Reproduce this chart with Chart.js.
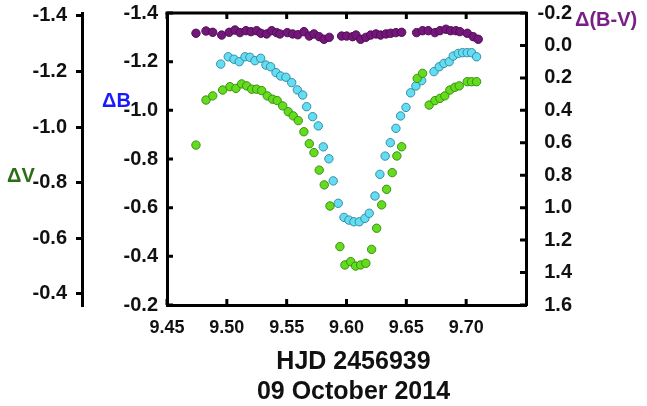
<!DOCTYPE html>
<html>
<head>
<meta charset="utf-8">
<script src="https://cdn.jsdelivr.net/npm/chart.js@4/dist/chart.umd.min.js"></script>
<style>
  html, body { margin: 0; padding: 0; background: #ffffff; }
  canvas { display: block; }
</style>
</head>
<body>
<canvas id="c" width="647" height="406"></canvas>
<script>
// ---- Data ----
const hjdBV = [9.4742, 9.4826, 9.4882, 9.4957, 9.5020, 9.5068, 9.5110, 9.5160, 9.5202, 9.5249,
  9.5285, 9.5333, 9.5375, 9.5416, 9.5444, 9.5505, 9.5550, 9.5594, 9.5645, 9.5689,
  9.5728, 9.5772, 9.5812, 9.5856, 9.5959, 9.6001, 9.6051, 9.6079, 9.6118, 9.6162,
  9.6202, 9.6246, 9.6285, 9.6330, 9.6369, 9.6413, 9.6461, 9.6586, 9.6636, 9.6683,
  9.6739, 9.6781, 9.6831, 9.6870, 9.6914, 9.6948, 9.7009, 9.7059, 9.7101];
const dBV = [-0.075, -0.089, -0.081, -0.064, -0.081, -0.095, -0.079, -0.091, -0.085, -0.091,
  -0.075, -0.071, -0.091, -0.079, -0.071, -0.079, -0.071, -0.066, -0.085, -0.058,
  -0.071, -0.054, -0.038, -0.050, -0.058, -0.058, -0.054, -0.064, -0.038, -0.050,
  -0.064, -0.071, -0.064, -0.071, -0.075, -0.079, -0.081, -0.079, -0.091, -0.091,
  -0.079, -0.091, -0.100, -0.091, -0.091, -0.085, -0.075, -0.054, -0.038];

const hjdB = [9.4949, 9.5012, 9.5060, 9.5104, 9.5152, 9.5193, 9.5235, 9.5283, 9.5327, 9.5366,
  9.5411, 9.5450, 9.5494, 9.5542, 9.5589, 9.5634, 9.5667, 9.5717, 9.5764, 9.5806,
  9.5853, 9.5889, 9.5931, 9.5979, 9.6020, 9.6062, 9.6107, 9.6154, 9.6190, 9.6238,
  9.6279, 9.6323, 9.6366, 9.6413, 9.6452, 9.6497, 9.6536, 9.6580, 9.6628, 9.6731,
  9.6775, 9.6814, 9.6858, 9.6892, 9.6934, 9.6970, 9.7009, 9.7045, 9.7087];
const dB = [-1.190, -1.220, -1.210, -1.200, -1.220, -1.218, -1.204, -1.214, -1.186, -1.179,
  -1.155, -1.141, -1.136, -1.114, -1.084, -1.063, -1.015, -0.974, -0.936, -0.850,
  -0.801, -0.710, -0.618, -0.560, -0.549, -0.542, -0.542, -0.556, -0.577, -0.648,
  -0.737, -0.812, -0.867, -0.926, -0.977, -1.012, -1.072, -1.100, -1.122, -1.159,
  -1.179, -1.193, -1.200, -1.223, -1.234, -1.237, -1.237, -1.237, -1.220];

const hjdV = [9.4742, 9.4826, 9.4882, 9.4965, 9.5026, 9.5076, 9.5124, 9.5166, 9.5208, 9.5249,
  9.5291, 9.5338, 9.5383, 9.5421, 9.5467, 9.5513, 9.5555, 9.5597, 9.5644, 9.5689,
  9.5728, 9.5772, 9.5814, 9.5862, 9.5945, 9.5987, 9.6035, 9.6076, 9.6118, 9.6162,
  9.6210, 9.6252, 9.6294, 9.6335, 9.6382, 9.6421, 9.6461, 9.6591, 9.6636, 9.6691,
  9.6739, 9.6781, 9.6822, 9.6864, 9.6906, 9.6942, 9.7009, 9.7045, 9.7087];
const dV = [-0.935, -1.097, -1.112, -1.133, -1.145, -1.139, -1.155, -1.148, -1.136, -1.136,
  -1.131, -1.112, -1.100, -1.095, -1.076, -1.055, -1.040, -1.023, -0.983, -0.940,
  -0.908, -0.845, -0.792, -0.716, -0.570, -0.504, -0.516, -0.500, -0.504, -0.510,
  -0.560, -0.636, -0.720, -0.776, -0.836, -0.896, -0.929, -1.175, -1.193, -1.079,
  -1.095, -1.103, -1.112, -1.133, -1.143, -1.148, -1.163, -1.163, -1.163];

// ---- Tick labels ----
const xTicks = [9.45, 9.50, 9.55, 9.60, 9.65, 9.70];
const bTicks = [-1.4, -1.2, -1.0, -0.8, -0.6, -0.4, -0.2];
const vTicks = [-1.4, -1.2, -1.0, -0.8, -0.6, -0.4];
const bvTicks = [-0.2, 0.0, 0.2, 0.4, 0.6, 0.8, 1.0, 1.2, 1.4, 1.6];

const FONT = "'Liberation Sans', Arial, sans-serif";
const toPts = (xs, ys) => xs.map((x, i) => ({ x: x, y: ys[i] }));
const setTicks = arr => (scale) => { scale.ticks = arr.map(v => ({ value: v })); };
const fitW = w => (s) => { s.width = w; s.paddingTop = 0; s.paddingBottom = 0; };

const deco = {
  id: 'deco',
  afterDraw(chart) {
    const { ctx, chartArea: a, scales } = chart;
    ctx.save();
    ctx.strokeStyle = '#000';
    ctx.lineWidth = 3;
    ctx.beginPath();
    ctx.moveTo(a.left - 1.5, a.top);
    ctx.lineTo(a.right + 1.5, a.top);
    ctx.stroke();
    const L = 6;
    ctx.beginPath();
    scales.x.ticks.forEach(t => {
      const px = scales.x.getPixelForValue(t.value);
      ctx.moveTo(px, a.bottom); ctx.lineTo(px, a.bottom - L);
      ctx.moveTo(px, a.top); ctx.lineTo(px, a.top + L);
    });
    scales.yB.ticks.forEach(t => {
      const py = scales.yB.getPixelForValue(t.value);
      ctx.moveTo(a.left, py); ctx.lineTo(a.left + L, py);
    });
    scales.yBV.ticks.forEach(t => {
      const py = scales.yBV.getPixelForValue(t.value);
      ctx.moveTo(a.right, py); ctx.lineTo(a.right - L, py);
    });
    ctx.stroke();

    ctx.textBaseline = 'middle';
    ctx.textAlign = 'left';
    ctx.font = 'bold 20px ' + FONT;
    ctx.fillStyle = '#2c6e18';
    ctx.fillText('\u0394V', 7, 176);
    ctx.fillStyle = '#1a1aff';
    ctx.fillText('\u0394B', 102, 101);
    ctx.fillStyle = '#7a1f86';
    ctx.fillText('\u0394(B-V)', 575, 20);

    ctx.textAlign = 'center';
    ctx.fillStyle = '#111';
    ctx.font = 'bold 25px ' + FONT;
    const cx = (a.left + a.right) / 2 + 7;
    ctx.fillText('HJD 2456939', cx, 362);
    ctx.fillText('09 October 2014', cx, 392);
    ctx.restore();
  }
};

const tickFont = { family: FONT, size: 20, weight: 'bold' };

new Chart(document.getElementById('c'), {
  type: 'scatter',
  data: {
    datasets: [
      { label: 'dV', data: toPts(hjdV, dV), yAxisID: 'yV',
        backgroundColor: '#62dc1c', borderColor: '#3b8f12', borderWidth: 1, pointRadius: 4.2 },
      { label: 'dB', data: toPts(hjdB, dB), yAxisID: 'yB',
        backgroundColor: '#62def2', borderColor: '#3a8aa6', borderWidth: 1, pointRadius: 4.2 },
      { label: 'dBV', data: toPts(hjdBV, dBV), yAxisID: 'yBV',
        backgroundColor: '#74177a', borderColor: '#520d57', borderWidth: 1, pointRadius: 4.2 }
    ]
  },
  options: {
    responsive: false,
    animation: false,
    layout: { padding: { left: 0, right: 75, top: 13, bottom: 0 } },
    plugins: { legend: { display: false }, tooltip: { enabled: false }, title: { display: false } },
    scales: {
      x: {
        type: 'linear', position: 'bottom', min: 9.45, max: 9.75,
        afterBuildTicks: setTicks(xTicks),
        afterFit: s => { s.height = 101; s.paddingLeft = 0; s.paddingRight = 0; },
        grid: { display: true, drawOnChartArea: false, drawTicks: false },
        border: { display: true, color: '#000', width: 3 },
        ticks: { color: '#111', font: { family: FONT, size: 18, weight: 'bold' }, padding: 12,
          maxRotation: 0, autoSkip: false, callback: v => v.toFixed(2) }
      },
      yV: {
        type: 'linear', position: 'left', weight: 10, reverse: true, min: -1.41, max: -0.36,
        afterBuildTicks: setTicks(vTicks),
        afterFit: fitW(82),
        grid: { display: true, drawOnChartArea: false, drawTicks: true, tickLength: 6, color: '#000', lineWidth: 3 },
        border: { display: true, color: '#000', width: 3 },
        ticks: { color: '#111', font: tickFont, padding: 9, autoSkip: false, callback: v => v.toFixed(1) }
      },
      yB: {
        type: 'linear', position: 'left', weight: 0, reverse: true, min: -1.4, max: -0.2,
        afterBuildTicks: setTicks(bTicks),
        afterFit: fitW(85),
        grid: { display: true, drawOnChartArea: false, drawTicks: false },
        border: { display: true, color: '#000', width: 3 },
        ticks: { color: '#111', font: tickFont, padding: 9, autoSkip: false, callback: v => v.toFixed(1) }
      },
      yBV: {
        type: 'linear', position: 'right', reverse: true, min: -0.2, max: 1.6,
        afterBuildTicks: setTicks(bvTicks),
        afterFit: fitW(46),
        grid: { display: true, drawOnChartArea: false, drawTicks: false },
        border: { display: true, color: '#000', width: 3 },
        ticks: { color: '#111', font: tickFont, padding: 9, crossAlign: 'far', autoSkip: false,
          callback: v => v.toFixed(1) }
      }
    }
  },
  plugins: [deco]
});
</script>
</body>
</html>
